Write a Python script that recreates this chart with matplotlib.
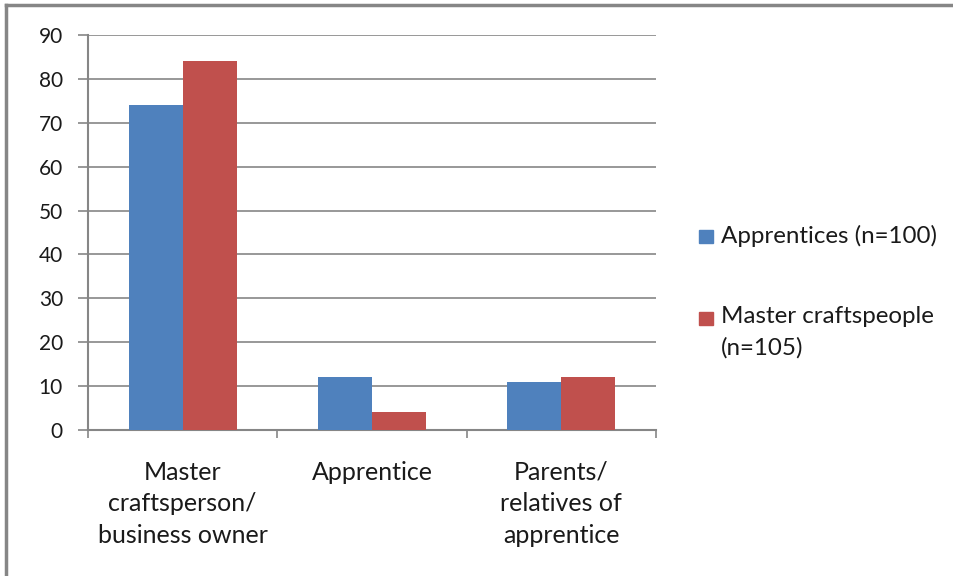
import numpy as np
import matplotlib.pyplot as plt
from matplotlib.patches import Rectangle
from matplotlib.lines import Line2D

categories = ['Master\ncraftsperson/\nbusiness owner', 'Apprentice',
              'Parents/\nrelatives of\napprentice']
series_names = ['Apprentices (n=100)', 'Master craftspeople\n(n=105)']
apprentices = [74, 12, 11]
masters = [84, 4.2, 12]
colors = ['#4f81bd', '#c0504d']
y_ticks = [0, 10, 20, 30, 40, 50, 60, 70, 80, 90]

plt.rcParams['font.family'] = ['Lato', 'DejaVu Sans']
grey = '#868686'

fig = plt.figure(figsize=(9.54, 5.76), dpi=100)
ax = fig.add_axes([0.0922, 0.2535, 0.5954, 0.6858])

x = np.arange(len(categories))
w = 1 / 3.5
for i, (vals, c) in enumerate(zip([apprentices, masters], colors)):
    ax.bar(x + (i - 0.5) * w, vals, width=w, color=c, zorder=3)

ax.set_xlim(-0.5, len(categories) - 0.5)
ax.set_ylim(0, 90)
ax.set_yticks(y_ticks)
ax.tick_params(axis='y', length=7, width=1.2, color=grey, pad=11,
               labelsize=15, labelcolor='#1a1a1a')
ax.grid(axis='y', color=grey, linewidth=1.2, zorder=0)

# category boundaries as ticks, labels at centres
ax.set_xticks(np.arange(len(categories) + 1) - 0.5)
ax.set_xticklabels([])
ax.set_xticks(x, minor=True)
ax.set_xticklabels(categories, minor=True, fontsize=18, linespacing=1.45,
                   color='#1a1a1a')
ax.tick_params(axis='x', which='major', length=6, width=1.2, color=grey)
ax.tick_params(axis='x', which='minor', length=0, pad=22)

for s in ['top', 'right']:
    ax.spines[s].set_visible(False)
for s in ['left', 'bottom']:
    ax.spines[s].set_color(grey)
    ax.spines[s].set_linewidth(1.5)

# legend drawn by hand so the swatch sits on the first line
leg_y = [1 - 237 / 576, 1 - 318 / 576]
for name, c, yy in zip(series_names, colors, leg_y):
    fig.add_artist(Rectangle((699 / 954, yy - 6.5 / 576), 14 / 954, 13 / 576,
                             transform=fig.transFigure, color=c))
    fig.text(721 / 954, yy + 12 / 576, name, fontsize=17.4, va='top',
             linespacing=1.55, color='#1a1a1a')

# outer frame (top and left only)
fig.add_artist(Line2D([6 / 954, 1], [1 - 5 / 576, 1 - 5 / 576],
                      transform=fig.transFigure, color=grey, linewidth=2.5))
fig.add_artist(Line2D([6 / 954, 6 / 954], [0, 1 - 5 / 576],
                      transform=fig.transFigure, color=grey, linewidth=2.5))

fig.savefig('out.png', dpi=100)
